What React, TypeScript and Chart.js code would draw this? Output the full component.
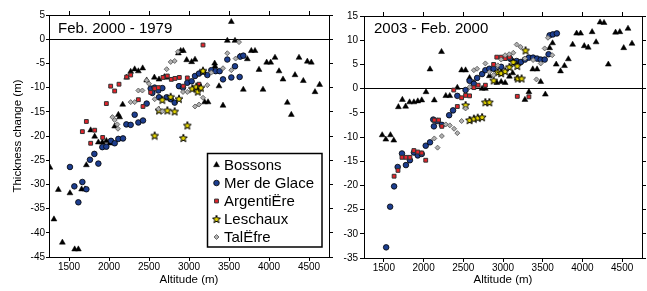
import React, { useEffect, useRef } from "react";
import { Chart, registerables } from "chart.js";
Chart.register(...registerables);

const FONT = '"Liberation Sans", Arial, Helvetica, sans-serif';

const X_TICKS = [1500, 2000, 2500, 3000, 3500, 4000, 4500];
const Y_TICKS_LEFT = [-45, -40, -35, -30, -25, -20, -15, -10, -5, 0, 5];
const Y_TICKS_RIGHT = [-35, -30, -25, -20, -15, -10, -5, 0, 5, 10, 15];
const SERIES = ["Bossons", "Mer de Glace", "ArgentiËre", "Leschaux", "TalËfre"];
const PANEL_TITLES = ["Feb. 2000 - 1979", "2003 - Feb. 2000"];
const X_TITLE = "Altitude (m)";
const Y_TITLE = "Thickness change (m)";

// ---- Panel A: Feb. 2000 - 1979  [altitude m, thickness change m]
const bossonsA: number[][] = [
  [1262, -26.5], [1312, -37.2], [1367, -31.1], [1417, -42], [1512, -31.8], [1571, -43.4], [1617, -43.4],
  [1658, -31], [1700, -31], [1717, -26], [1771, -18.8], [1821, -20.1], [1867, -21.3], [1917, -21.3],
  [1967, -21], [2010, -21.5], [2071, -18], [2117, -15.6], [2133, -16.1], [2171, -13.5], [2221, -7.9],
  [2271, -6.7], [2321, -6.2], [2367, -6.6], [2421, -6], [2471, -8.5], [2567, -7.9], [2625, -8.3],
  [2692, -7.8], [2729, -7.9], [2867, -2.9], [2896, -2.4], [2929, -2.4], [2971, -4.3], [3033, -4.7],
  [3075, -4.2], [3112, -10], [3196, -13], [3238, -13], [3321, -5], [3325, -5.6], [3375, -9.7],
  [3425, -13.7], [3479, -0.3], [3529, 3.6], [3575, -0.3], [3633, -3.6], [3679, -10.4], [3729, -4.1],
  [3779, -2.4], [3825, -2.4], [3875, -6.3], [3925, -10.4], [3971, -4.8], [4021, -4.8], [4075, -3.8],
  [4125, -6.6], [4175, -8.3], [4229, -13.1], [4279, -15.6], [4325, -7.4], [4375, -3.8], [4429, -8.6],
  [4479, -4.6], [4529, -4.8], [4575, -10.9], [4633, -9.4],
];
const merA: number[][] = [
  [1512, -26.4], [1567, -30.4], [1617, -33.7], [1667, -29.5], [1717, -31], [1762, -24.9], [1817, -23.7],
  [1867, -25.7], [1917, -22.3], [1967, -22.2], [2025, -21], [2071, -21.5], [2117, -20.6], [2175, -20.5],
  [2217, -17.6], [2271, -17.7], [2321, -15.6], [2367, -17.2], [2425, -16.8], [2471, -13.3], [2521, -10.2],
  [2542, -11.1], [2571, -10], [2617, -10.6], [2625, -12], [2667, -10.1], [2721, -12], [2771, -12.4],
  [2821, -13.1], [2875, -9.7], [2925, -10], [2979, -9], [3033, -8.7], [3075, -7.6], [3125, -7.1],
  [3175, -6.7], [3229, -7.4], [3279, -6.4], [3333, -6.6], [3383, -6.6], [3425, -8.3], [3479, -4.2],
  [3529, -7.9], [3575, -5.6], [3633, -7.8], [3640, -3.6], [3679, -3.4],
];
const argA: number[][] = [
  [1667, -19.1], [1717, -17], [1771, -21.5], [1821, -18.8], [1921, -20.3], [1967, -13.3], [2021, -9.7],
  [2071, -10.7], [2125, -9.3], [2221, -7.8], [2271, -7.4], [2367, -12.5], [2425, -13.9], [2521, -11],
  [2571, -10.2], [2617, -10], [2675, -7.9], [2729, -7.6], [2779, -8.3], [2825, -8.1], [2879, -7.9],
  [2929, -9.7], [2979, -8], [3125, -9.3], [3175, -1.2],
];
const leschA: number[][] = [
  [2571, -19.9], [2625, -14.7], [2667, -12.5], [2729, -14.7], [2771, -11.9], [2821, -14.9], [2875, -12.3],
  [2929, -20.4], [2979, -17.8], [3040, -10.2], [3090, -9.8], [3110, -10.8], [3150, -10], [3175, -6.5],
];
const talA: number[][] = [
  [2042, -16.1], [2071, -16.7], [2104, -17.6], [2112, -18.5], [2271, -13], [2321, -13], [2367, -10.6],
  [2417, -10.6], [2471, -8.5], [2500, -9.2], [2571, -12.4], [2617, -14.4], [2667, -14.9], [2721, -6.2],
  [2771, -4.7], [2821, -4.5], [2862, -2.6], [2925, -10.9], [2979, -10.9], [3075, -13.9], [3125, -13.5],
  [3175, -12.1], [3229, -9.5], [3279, -6.9], [3425, -6], [3479, -2.9], [3529, -6.4], [3583, -4], [3625, -0.6],
];

// ---- Panel B: 2003 - Feb. 2000
const bossonsB: number[][] = [
  [1479, -9.6], [1525, -10.5], [1583, -9.6], [1625, -10.7], [1683, -3.8], [1733, -2.3], [1774, -3.7],
  [1824, -2.8], [1878, -2.8], [1927, -2.6], [1977, -2.4], [2031, -0.7], [2081, 4], [2135, -2.4],
  [2226, 7.6], [2280, -1.5], [2330, -1.5], [2425, 0.2], [2479, 3.8], [2529, 3.8], [2579, 2.2],
  [2633, 1.2], [2737, 0], [2778, 0], [2828, 2.6], [2922, 1.2], [2977, 1.4], [3027, 1.2], [3081, 2.5],
  [3122, 3.2], [3176, 2.1], [3276, -2.3], [3326, -0.7], [3375, 4], [3429, 4], [3475, 1.4], [3533, -1.2],
  [3587, 8.4], [3624, 9.4], [3670, 5], [3724, 3.6], [3774, 4.7], [3823, 6.1], [3877, 9.1], [3927, 11.4],
  [3977, 11.4], [4023, 8.8], [4073, 8.5], [4122, 11.7], [4172, 9.6], [4222, 13.7], [4272, 13.6],
  [4326, 5], [4417, 11.6], [4471, 11.7], [4520, 8.4], [4574, 12.4], [4624, 9.3],
];
const merB: number[][] = [
  [1529, -32.8], [1579, -24.4], [1629, -20.2], [1674, -16.2], [1728, -13.4], [1778, -15.8], [1828, -14.8],
  [1878, -13.2], [1927, -13.8], [1977, -13.5], [2027, -11.8], [2081, -11.1], [2122, -6.4], [2130, -7.8],
  [2171, -6.7], [2230, -7.5], [2322, -5.5], [2371, -4.5], [2425, -1.5], [2529, -0.3], [2579, 1.6],
  [2633, 1], [2674, 2.2], [2737, 3], [2778, 3.8], [2828, 4.1], [2882, 4.1], [2977, 4.5], [3089, 6.2],
  [3172, 5.7], [3226, 5.5], [3276, 6], [3326, 6.4], [3379, 6.4], [3429, 6.2], [3475, 6], [3525, 6],
  [3574, 7.1], [3587, 11], [3628, 11.2], [3678, 11.4],
];
const argB: number[][] = [
  [1629, -18.1], [1678, -16.9], [1728, -14.2], [1778, -14.2], [1828, -14.2], [1878, -12.8], [1927, -13.1],
  [1977, -13.3], [2027, -14.8], [2135, -6.5], [2189, -6.5], [2230, -7.8], [2380, -0.3], [2425, -3.7],
  [2479, -1.9], [2529, -1.4], [2579, -1.5], [2633, 0.2], [2687, 0.7], [2778, 0.7], [2882, 5], [2922, 6.5],
  [2977, 6.5], [3027, 6.2], [3081, 6.5], [3180, -1.6], [3326, -1.7],
];
const leschB: number[][] = [
  [2529, -3.4], [2579, -6.5], [2633, -6.2], [2682, -6], [2737, -5.9], [2778, -2.8], [2828, -2.8],
  [2882, 1.7], [2935, 3.4], [2977, 3.2], [3027, 3.6], [3081, 4.5], [3130, 5.5], [3180, 4.7], [3185, 2.1],
  [3234, 2.1], [3284, 7.9],
];
const talB: number[][] = [
  [2135, -10.3], [2176, -12.2], [2230, -9.8], [2280, -7.4], [2330, -7.6], [2384, -8.3], [2425, -9.2],
  [2479, -6.7], [2529, -4.1], [2579, 0.3], [2633, 3.8], [2674, 4.1], [2778, 5.2], [2828, 3.4], [2882, 2.8],
  [2935, 4.8], [2977, 6], [3027, 6.9], [3077, 7.1], [3130, 7.4], [3172, 9.1], [3222, 8.6], [3276, 6.2],
  [3379, 5.9], [3421, 1.9], [3475, 5.2], [3525, 8.3], [3566, 10.5], [3620, 6.9],
];

function makeStar(): HTMLCanvasElement {
  const c = document.createElement("canvas");
  c.width = 10;
  c.height = 10;
  const g = c.getContext("2d")!;
  g.beginPath();
  for (let i = 0; i < 10; i++) {
    const r = i % 2 === 0 ? 4.2 : 1.8;
    const a = -Math.PI / 2 + (i * Math.PI) / 5;
    const px = 5 + r * Math.cos(a);
    const py = 5.4 + r * Math.sin(a);
    if (i === 0) g.moveTo(px, py);
    else g.lineTo(px, py);
  }
  g.closePath();
  g.fillStyle = "#e2d300";
  g.fill();
  g.strokeStyle = "#000";
  g.lineWidth = 1;
  g.stroke();
  return c;
}

function buildConfig(panel: number, star: HTMLCanvasElement): any {
  const isLeft = panel === 0;
  const sets = isLeft ? [bossonsA, merA, argA, leschA, talA] : [bossonsB, merB, argB, leschB, talB];
  const yTicks = isLeft ? Y_TICKS_LEFT : Y_TICKS_RIGHT;
  const yMin = yTicks[0];
  const yMax = yTicks[yTicks.length - 1];
  const W = isLeft ? 340 : 311;
  const area = isLeft ? { left: 49, right: 329, top: 15, bottom: 257 } : { left: 28, right: 309, top: 16, bottom: 258 };

  const styles: any[] = [
    { pointStyle: "triangle", radius: 3.4, backgroundColor: "#000", borderColor: "#000", borderWidth: 0.5 },
    { pointStyle: "circle", radius: 2.8, backgroundColor: "#1d3e8f", borderColor: "#000", borderWidth: 0.8 },
    { pointStyle: "rect", radius: 2.7, backgroundColor: "#e3232a", borderColor: "#333", borderWidth: 1 },
    { pointStyle: star, radius: 5, backgroundColor: "#e2d300", borderColor: "#000", borderWidth: 0 },
    { pointStyle: "rectRot", radius: 2.5, backgroundColor: "#b0b0b0", borderColor: "#505050", borderWidth: 0.8 },
  ];

  const datasets = sets.map((pts, i) => ({
    label: SERIES[i],
    data: pts.map((p) => ({ x: p[0], y: p[1] })),
    showLine: false,
    pointStyle: styles[i].pointStyle,
    pointRadius: styles[i].radius,
    pointBackgroundColor: styles[i].backgroundColor,
    pointBorderColor: styles[i].borderColor,
    pointBorderWidth: styles[i].borderWidth,
    order: 4 - i,
  }));

  const tickFont = { family: FONT, size: 10 };
  const fmt = (v: any) => String(v);
  const setXTicks = (s: any) => {
    s.ticks = X_TICKS.map((v) => ({ value: v }));
  };
  const setYTicks = (s: any) => {
    s.ticks = yTicks.map((v) => ({ value: v }));
  };

  const decor = {
    id: "decor" + panel,
    afterDatasetsDraw(chart: any) {
      const ctx = chart.ctx;
      const ca = chart.chartArea;
      ctx.save();
      ctx.fillStyle = "#000";
      ctx.font = `15px ${FONT}`;
      ctx.textBaseline = "middle";
      ctx.textAlign = "left";
      ctx.fillText(PANEL_TITLES[panel], ca.left + (isLeft ? 9 : 10), isLeft ? 29 : 28.5);
      if (isLeft) {
        ctx.fillStyle = "#fff";
        ctx.fillRect(207, 153, 115, 94);
        ctx.strokeStyle = "#000";
        ctx.lineWidth = 1.5;
        ctx.strokeRect(207.5, 153.5, 114.5, 93.5);
        for (let i = 0; i < SERIES.length; i++) {
          const y = 165 + i * 18;
          const x = 216.5;
          const st = styles[i];
          ctx.beginPath();
          if (st.pointStyle === "triangle") {
            const r = st.radius;
            ctx.moveTo(x, y - r);
            ctx.lineTo(x + r * 0.866, y + r * 0.5);
            ctx.lineTo(x - r * 0.866, y + r * 0.5);
            ctx.closePath();
          } else if (st.pointStyle === "circle") {
            ctx.arc(x, y, st.radius, 0, Math.PI * 2);
          } else if (st.pointStyle === "rect") {
            const s = st.radius * Math.SQRT1_2;
            ctx.rect(x - s, y - s, 2 * s, 2 * s);
          } else if (st.pointStyle === "rectRot") {
            const r = st.radius;
            ctx.moveTo(x - r, y);
            ctx.lineTo(x, y - r);
            ctx.lineTo(x + r, y);
            ctx.lineTo(x, y + r);
            ctx.closePath();
          }
          if (typeof st.pointStyle === "string") {
            ctx.fillStyle = st.backgroundColor;
            ctx.fill();
            ctx.lineWidth = st.borderWidth;
            ctx.strokeStyle = st.borderColor;
            ctx.stroke();
          } else {
            ctx.drawImage(star, x - star.width / 2, y - star.height / 2);
          }
          ctx.fillStyle = "#000";
          ctx.font = `15px ${FONT}`;
          ctx.textAlign = "left";
          ctx.textBaseline = "middle";
          ctx.fillText(SERIES[i], 224, y + 0.5);
        }
      }
      ctx.restore();
    },
  };

  return {
    type: "scatter",
    data: { datasets },
    plugins: [decor],
    options: {
      responsive: false,
      devicePixelRatio: 1,
      animation: false,
      events: [],
      layout: { padding: 0 },
      plugins: { legend: { display: false }, tooltip: { enabled: false }, title: { display: false } },
      scales: {
        x: {
          type: "linear",
          position: "bottom",
          min: 1250,
          max: 4750,
          afterBuildTicks: setXTicks,
          afterFit: (s: any) => {
            s.height = 291 - area.bottom;
          },
          ticks: { font: tickFont, color: "#000", padding: 0, maxRotation: 0, autoSkip: false, callback: fmt },
          grid: { drawOnChartArea: false, drawTicks: true, tickLength: 4, color: "#000", lineWidth: 1 },
          border: { display: true, color: "#000", width: 1 },
          title: {
            display: true,
            text: X_TITLE,
            color: "#000",
            font: { family: FONT, size: 11.5 },
            padding: { top: 0, bottom: 4 },
          },
        },
        xTop: {
          type: "linear",
          position: "top",
          min: 1250,
          max: 4750,
          afterBuildTicks: setXTicks,
          afterFit: (s: any) => {
            s.height = area.top;
          },
          ticks: { display: false },
          grid: { drawOnChartArea: false, drawTicks: true, tickLength: 4, color: "#000", lineWidth: 1 },
          border: { display: true, color: "#000", width: 1 },
        },
        y: {
          type: "linear",
          position: "left",
          min: yMin,
          max: yMax,
          afterBuildTicks: setYTicks,
          afterFit: (s: any) => {
            s.width = area.left;
          },
          ticks: { font: tickFont, color: "#000", padding: isLeft ? 1 : 2, callback: fmt },
          grid: {
            drawOnChartArea: true,
            drawTicks: true,
            tickLength: isLeft ? 3 : 4,
            color: (c: any) => (c.tick && c.tick.value === 0 ? "#000" : "rgba(0,0,0,0)"),
            tickColor: "#000",
            lineWidth: 1,
          },
          border: { display: true, color: "#000", width: 1 },
          title: isLeft
            ? {
                display: true,
                text: Y_TITLE,
                color: "#000",
                font: { family: FONT, size: 11.5 },
                padding: { top: 11, bottom: 0 },
              }
            : { display: false },
        },
        yRight: {
          type: "linear",
          position: "right",
          min: yMin,
          max: yMax,
          afterBuildTicks: setYTicks,
          afterFit: (s: any) => {
            s.width = W - area.right;
          },
          ticks: { display: false },
          grid: { drawOnChartArea: false, drawTicks: true, tickLength: 4, color: "#000", lineWidth: 1 },
          border: { display: true, color: "#000", width: 1 },
        },
      },
    },
  };
}

function Panel({ panel, left, width }: { panel: number; left: number; width: number }) {
  const ref = useRef<HTMLCanvasElement>(null);
  useEffect(() => {
    const star = makeStar();
    const chart = new Chart(ref.current as HTMLCanvasElement, buildConfig(panel, star));
    return () => chart.destroy();
  }, [panel]);
  return (
    <canvas
      ref={ref}
      width={width}
      height={291}
      style={{ position: "absolute", left, top: 0, width, height: 291, display: "block" }}
    />
  );
}

export default function App() {
  return (
    <div style={{ position: "absolute", left: 0, top: 0, width: 647, height: 291, background: "#fff" }}>
      <Panel panel={0} left={0} width={340} />
      <Panel panel={1} left={336} width={311} />
    </div>
  );
}
